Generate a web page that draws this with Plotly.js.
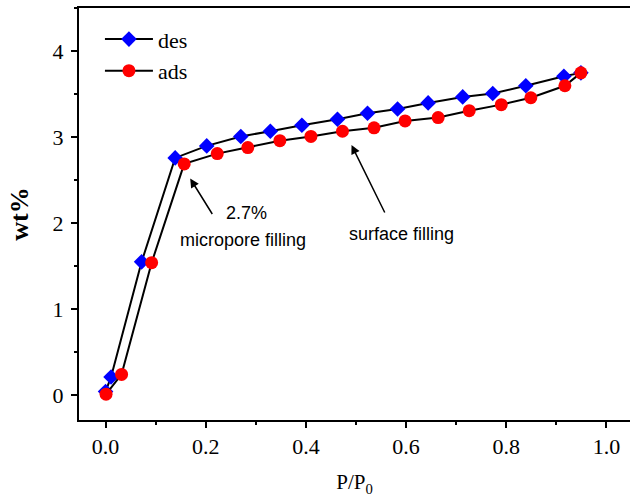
<!DOCTYPE html>
<html>
<head>
<meta charset="utf-8">
<script src="https://cdn.plot.ly/plotly-3.0.1.min.js"></script>
<style>html,body{margin:0;padding:0;background:#fff;}#chart{width:630px;height:497px;}</style>
</head>
<body>
<div id="chart"></div>
<script>
// des (desorption) series
const desX = [0.000, 0.011, 0.072, 0.139, 0.202, 0.270, 0.329, 0.392, 0.463, 0.523, 0.583, 0.644, 0.713, 0.773, 0.839, 0.915, 0.949];
const desY = [0.04, 0.21, 1.55, 2.76, 2.90, 3.01, 3.07, 3.14, 3.21, 3.28, 3.33, 3.40, 3.47, 3.51, 3.60, 3.71, 3.75];
// ads (adsorption) series
const adsX = [0.001, 0.032, 0.092, 0.157, 0.223, 0.284, 0.348, 0.410, 0.473, 0.536, 0.598, 0.664, 0.726, 0.790, 0.849, 0.917, 0.949];
const adsY = [0.01, 0.24, 1.54, 2.69, 2.81, 2.88, 2.96, 3.01, 3.07, 3.11, 3.19, 3.23, 3.31, 3.38, 3.46, 3.60, 3.75];
const seriesNames = ["des", "ads"];
const xTitle = "P/P<sub>0</sub>";
const yTitle = "<b>wt%</b>";
const noteMicro = ["2.7%", "micropore filling"];
const noteSurface = "surface filling";

const serif = "Liberation Serif, Times New Roman, serif";
const sans = "Liberation Sans, Arial, sans-serif";

const traces = [
  {x: desX, y: desY, name: seriesNames[0], type: "scatter", mode: "lines+markers",
   line: {color: "#000", width: 2},
   marker: {symbol: "diamond", size: 12, color: "#0000ff", line: {width: 0}}},
  {x: adsX, y: adsY, name: seriesNames[1], type: "scatter", mode: "lines+markers",
   line: {color: "#000", width: 2},
   marker: {symbol: "circle", size: 13, color: "#ff0000", line: {width: 0}}}
];

const axisCommon = {
  showline: true, linecolor: "#000", linewidth: 2,
  ticks: "outside", ticklen: 6, tickwidth: 2, tickcolor: "#000",
  showgrid: false, zeroline: false,
  tickfont: {family: serif, size: 22, color: "#000"}
};

const layout = {
  width: 630, height: 497,
  margin: {l: 79, r: 0, t: 8, b: 77},
  paper_bgcolor: "#fff", plot_bgcolor: "#fff",
  showlegend: true,
  legend: {x: 0.038, y: 0.975, xanchor: "left", yanchor: "top",
    bgcolor: "rgba(0,0,0,0)", borderwidth: 0, itemwidth: 48,
    font: {family: serif, size: 22, color: "#000"}, tracegroupgap: 0},
  xaxis: Object.assign({}, axisCommon, {
    range: [-0.053, 1.047], tick0: 0, dtick: 0.2, tickformat: ".1f",
    mirror: true,
    minor: {dtick: 0.1, ticks: "outside", ticklen: 3, tickwidth: 2, tickcolor: "#000"},
    title: {text: xTitle, font: {family: serif, size: 21, color: "#000"}, standoff: 16}
  }),
  yaxis: Object.assign({}, axisCommon, {
    range: [-0.291, 4.505], tick0: 0, dtick: 1, ticklabelstandoff: 3,
    minor: {dtick: 0.5, ticks: "outside", ticklen: 3, tickwidth: 2, tickcolor: "#000"},
    title: {text: yTitle, font: {family: serif, size: 26, color: "#000"}, standoff: 16}
  }),
  annotations: [
    {x: 0.169, y: 2.52, xref: "x", yref: "y", text: "", showarrow: true,
     ax: 23, ay: 37, arrowhead: 2, arrowsize: 1.2, arrowwidth: 1.5, arrowcolor: "#000"},
    {x: 0.282, y: 2.12, xref: "x", yref: "y", text: noteMicro[0], showarrow: false,
     font: {family: sans, size: 18, color: "#000"}},
    {x: 0.274, y: 1.80, xref: "x", yref: "y", text: noteMicro[1], showarrow: false,
     font: {family: sans, size: 18, color: "#000"}},
    {x: 0.491, y: 2.91, xref: "x", yref: "y", text: "", showarrow: true,
     ax: 34, ay: 69, arrowhead: 2, arrowsize: 1.2, arrowwidth: 1.5, arrowcolor: "#000"},
    {x: 0.591, y: 1.87, xref: "x", yref: "y", text: noteSurface, showarrow: false,
     font: {family: sans, size: 18, color: "#000"}}
  ]
};

Plotly.newPlot("chart", traces, layout, {displayModeBar: false, staticPlot: true});
</script>
</body>
</html>
